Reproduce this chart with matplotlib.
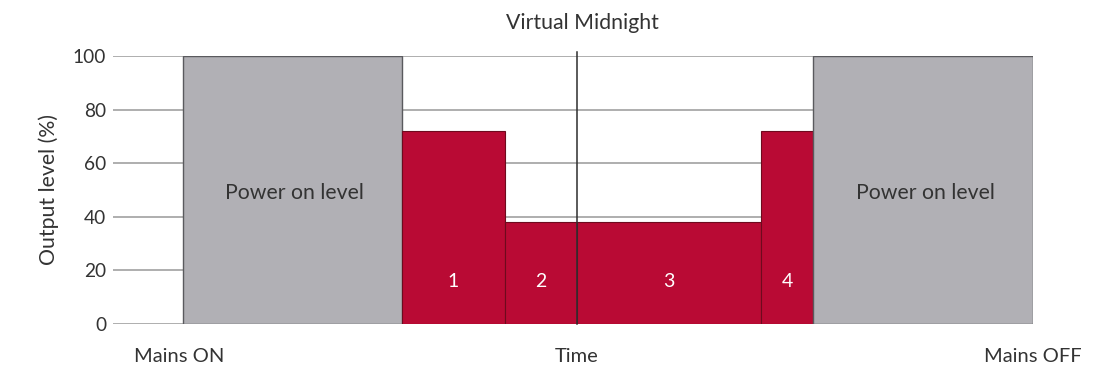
import matplotlib
matplotlib.use("Agg")
import matplotlib.pyplot as plt

# Phase data (time in arbitrary units)
phase_labels = ["Power on level", "1", "2", "3", "4", "Power on level"]
phase_starts = [0, 219, 322, 394, 578, 630]
phase_widths = [219, 103, 72, 184, 52, 220]
phase_levels = [100, 72, 38, 38, 72, 100]
phase_kinds = ["power", "dim", "dim", "dim", "dim", "power"]

virtual_midnight = 394
time_end = 850
y_ticks = [0, 20, 40, 60, 80, 100]
x_labels = ["Mains ON", "Time", "Mains OFF"]
x_label_pos = [-4, virtual_midnight, time_end]

plt.rcParams['font.family'] = ['Lato', 'DejaVu Sans']

fig = plt.figure(figsize=(11, 3.68), dpi=100)
ax = fig.add_axes([0.1027, 0.1196, 0.8364, 0.7283])

gray = "#b1b0b5"
red = "#b90a34"
txt = "#333333"

# grid
for yv in y_ticks:
    ax.axhline(yv, color="#a8a8a8", lw=1.3, zorder=0)

for lab, s, w, h, k in zip(phase_labels, phase_starts, phase_widths, phase_levels, phase_kinds):
    if k == "power":
        ax.bar(s, h, width=w, align="edge", color=gray, edgecolor="#5a5a5e", linewidth=1.0, zorder=2)
        ax.text(s + w / 2 + 2, 49, lab, ha="center", va="center", fontsize=15.3, color=txt, zorder=3)
    else:
        ax.bar(s, h, width=w, align="edge", color=red, edgecolor="#6e0a1e", linewidth=0.8, zorder=2)
        ax.text(s + w / 2, 16, lab, ha="center", va="center", fontsize=14, color="white", zorder=3)

ax.plot([virtual_midnight, virtual_midnight], [0, 101.5], color="#2e2e2e", lw=1.1, zorder=4, clip_on=False)
ax.text(virtual_midnight + 5, 1.123, "Virtual Midnight", transform=ax.get_xaxis_transform(),
        ha="center", va="center", fontsize=15.3, color=txt)

ax.set_xlim(-70, time_end)
ax.set_ylim(0, 100)
ax.set_yticks(y_ticks)
ax.set_yticklabels([str(v) for v in y_ticks], fontsize=13.8, color=txt)
ax.set_xticks(x_label_pos)
ax.set_xticklabels(x_labels, fontsize=14.5, color=txt)
ax.tick_params(axis="y", length=0, pad=5)
ax.tick_params(axis="x", length=0, pad=17)
ax.set_ylabel("Output level (%)", fontsize=15.3, color=txt, labelpad=10)
for sp in ax.spines.values():
    sp.set_visible(False)

fig.savefig("out.png", dpi=100, facecolor="white")
